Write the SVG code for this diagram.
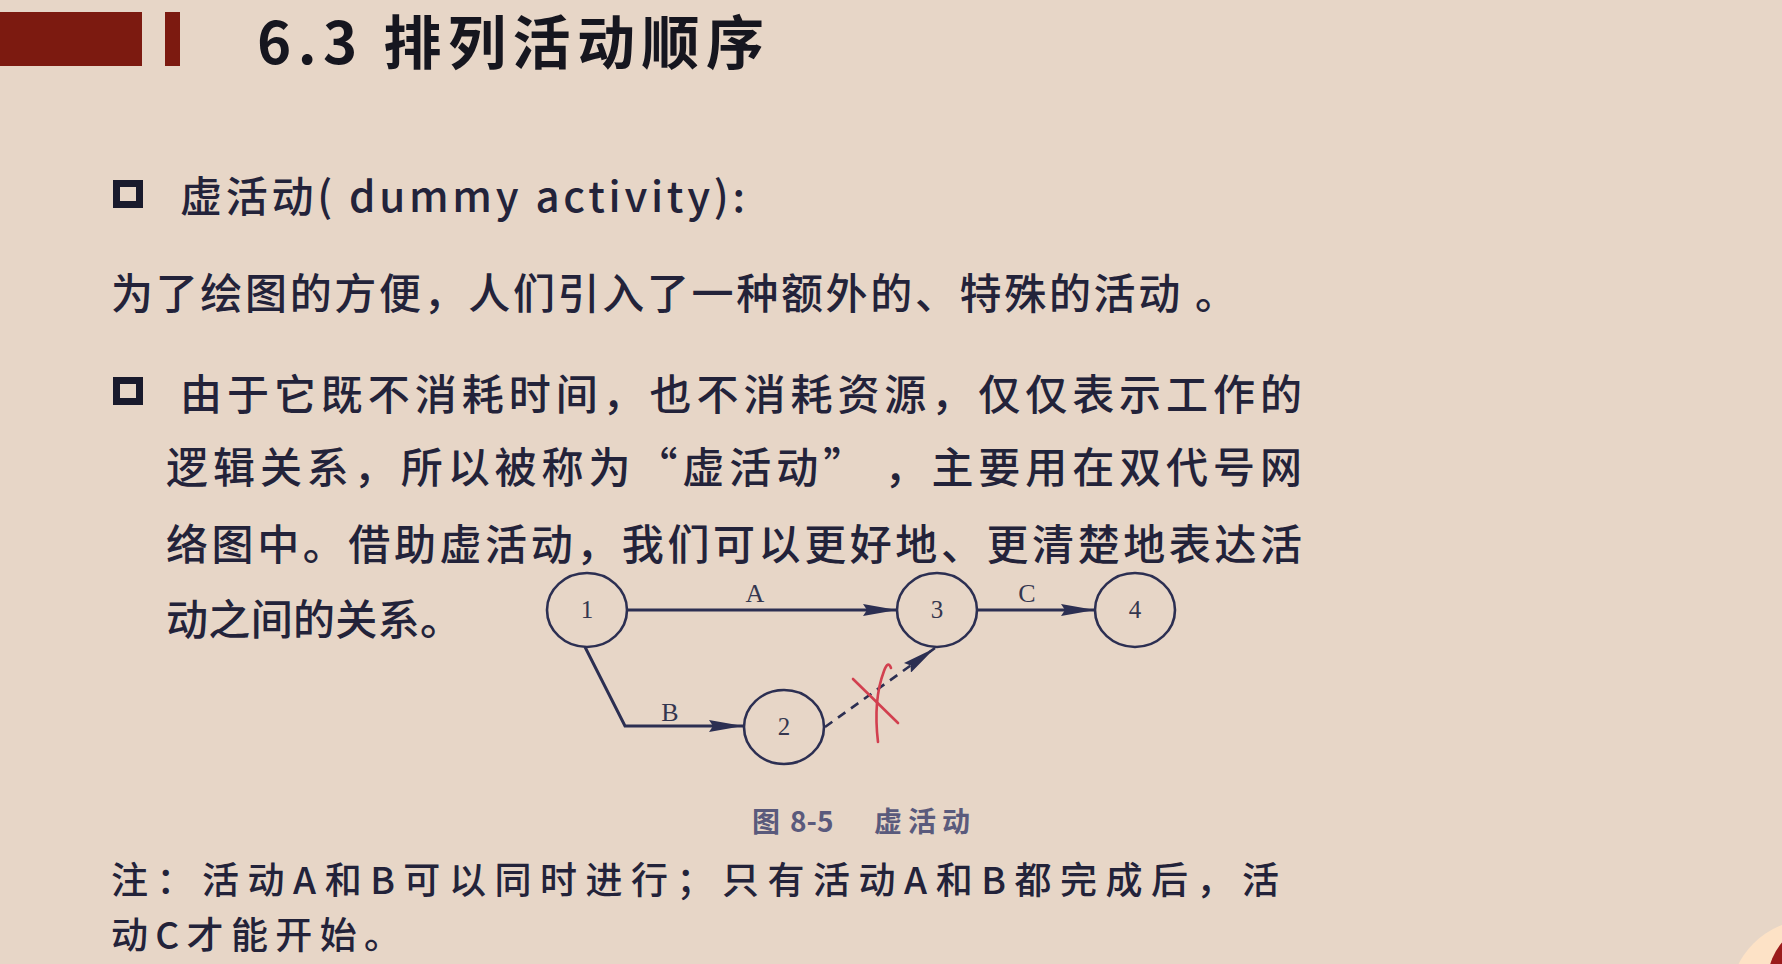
<svg xmlns="http://www.w3.org/2000/svg" width="1782" height="964" viewBox="0 0 1782 964">
<style>
.body{font-family:"Noto Sans CJK SC","Noto Sans",sans-serif;font-size:42px;fill:#23233a;font-weight:500}
.note{font-size:37px}
.title{font-family:"Noto Sans CJK SC","Noto Sans",sans-serif;font-size:58px;fill:#16161f;font-weight:700}
.cap{font-family:"Noto Sans CJK SC","Noto Sans",sans-serif;font-size:28px;fill:#5a5a7c;font-weight:700}
.node ellipse{fill:none;stroke:#2c2f52;stroke-width:2.6}
.node text,.lbl{font-family:"Liberation Serif","Times New Roman",serif;fill:#34364f;text-anchor:middle}
.node text{font-size:25px}
.lbl{font-size:26px}
.edge{fill:none;stroke:#2c2f52;stroke-width:3}
.dash{stroke-dasharray:9 7;stroke-width:2.6}
.box{fill:none;stroke:#191a2c;stroke-width:7}
</style>
<defs>
<marker id="arr" viewBox="0 0 34 12" refX="34" refY="6" markerWidth="34" markerHeight="12" markerUnits="userSpaceOnUse" orient="auto">
<path d="M0,0 L34,6 L0,12 L4,6 Z" fill="#2c2f52"/>
</marker>
</defs>
<rect width="1782" height="964" fill="#e7d6c7"/>
<g id="header">
<rect x="0" y="12" width="142" height="54" fill="#7c1a10"/>
<rect x="165" y="12" width="15" height="54" fill="#7c1a10"/>
<text class="title" x="257" y="64" textLength="507" lengthAdjust="spacing">6.3 排列活动顺序</text>
</g>
<g id="text">
<rect class="box" x="116.5" y="183.5" width="23" height="21"/>
<text class="body" x="180" y="212" textLength="565" lengthAdjust="spacing">虚活动( dummy activity):</text>
<text class="body" x="111" y="309" textLength="1126" lengthAdjust="spacing">为了绘图的方便，人们引入了一种额外的、特殊的活动 。</text>
<rect class="box" x="116.5" y="380.5" width="23" height="21"/>
<text class="body" x="180" y="410" textLength="1122" lengthAdjust="spacing">由于它既不消耗时间，也不消耗资源，仅仅表示工作的</text>
<text class="body" x="166" y="483" textLength="1136" lengthAdjust="spacing">逻辑关系，所以被称为“虚活动” ，主要用在双代号网</text>
<text class="body" x="166" y="560" textLength="1136" lengthAdjust="spacing">络图中。借助虚活动，我们可以更好地、更清楚地表达活</text>
<text class="body" x="166" y="635" textLength="296" lengthAdjust="spacing">动之间的关系。</text>
<text class="body note" x="111" y="894" textLength="1168" lengthAdjust="spacing">注：活动A和B可以同时进行；只有活动A和B都完成后，活</text>
<text class="body note" x="111" y="949" textLength="290" lengthAdjust="spacing">动C才能开始。</text>
</g>
<g id="caption">
<text class="cap" y="832"><tspan x="752">图</tspan><tspan x="790">8-5</tspan><tspan x="874" textLength="96" lengthAdjust="spacing">虚活动</tspan></text>
</g>
<g id="connectors">
<line class="edge" x1="628" y1="610" x2="897" y2="610" marker-end="url(#arr)"/>
<line class="edge" x1="977" y1="610" x2="1095" y2="610" marker-end="url(#arr)"/>
<polyline class="edge" points="585,647 625,726 743,726" marker-end="url(#arr)"/>
<line class="edge dash" x1="825" y1="727" x2="935" y2="648" marker-end="url(#arr)"/>
<text class="lbl" x="755" y="602">A</text>
<text class="lbl" x="1027" y="602">C</text>
<text class="lbl" x="670" y="721">B</text>
</g>
<g id="node1" class="node"><ellipse cx="587" cy="610" rx="40" ry="37"/><text x="587" y="618">1</text></g>
<g id="node2" class="node"><ellipse cx="784" cy="727" rx="40" ry="37"/><text x="784" y="735">2</text></g>
<g id="node3" class="node"><ellipse cx="937" cy="610" rx="40" ry="37"/><text x="937" y="618">3</text></g>
<g id="node4" class="node"><ellipse cx="1135" cy="610" rx="40" ry="37"/><text x="1135" y="618">4</text></g>
<g id="redmark" fill="none" stroke="#d2404f" stroke-width="2.6" stroke-linecap="round">
<line x1="853" y1="679" x2="898" y2="723"/>
<path d="M891,668 Q888,660 884,671 Q873,700 878,742"/>
</g>
<g id="corner">
<circle cx="1810" cy="1000" r="80" fill="#fde2c6"/>
<circle cx="1825" cy="980" r="57" fill="#9b1b1b"/>
</g>
</svg>
